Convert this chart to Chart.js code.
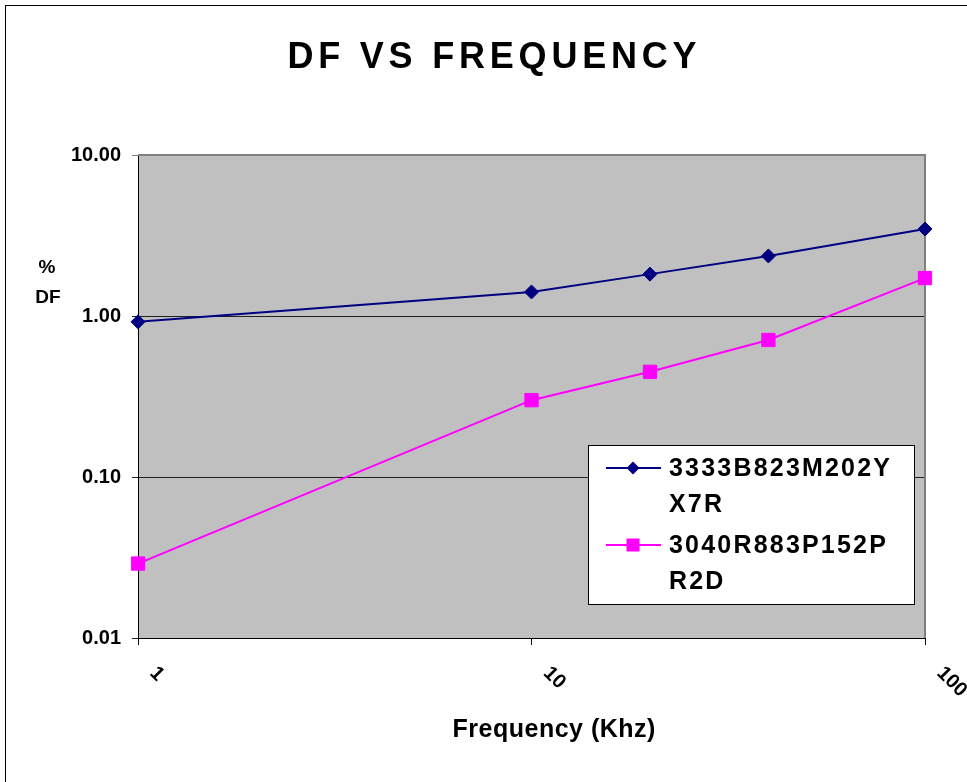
<!DOCTYPE html>
<html>
<head>
<meta charset="utf-8">
<script src="https://cdn.jsdelivr.net/npm/chart.js@4.4.0/dist/chart.umd.min.js"></script>
<style>
html, body { margin: 0; padding: 0; background: #fff; overflow: hidden; }
#frame { position: absolute; left: 5px; top: 5px; width: 1200px; height: 1200px; border: 1px solid #000; }
#wrap { position: absolute; left: 0; top: 0; width: 967px; height: 782px; }
</style>
</head>
<body>
<div id="frame"></div>
<div id="wrap"><canvas id="chart"></canvas></div>
<script>
// values
const freqs = [1, 10, 20, 40, 100];
const dfX7R = [0.92, 1.41, 1.82, 2.36, 3.47];
const dfR2D = [0.029, 0.30, 0.45, 0.71, 1.72];
const seriesNames = ['3333B823M202YX7R', '3040R883P152PR2D'];
const xTicks = [1, 10, 100];
const yTicks = [0.01, 0.1, 1, 10];

const FONT = '"Liberation Sans", Arial, sans-serif';

function spacedText(ctx, text, x, y, spacing, align) {
    ctx.letterSpacing = '0px';
    let w = ctx.measureText(text).width + spacing * (text.length - 1);
    ctx.letterSpacing = spacing + 'px';
    ctx.textAlign = 'left';
    let sx = align == 'center' ? x - w / 2 : x;
    ctx.fillText(text, sx, y);
    ctx.letterSpacing = '0px';
}

function wrapChars(ctx, text, maxW, spacing) {
    let lines = [], cur = '';
    for (const ch of text) {
        let t = cur + ch;
        if (cur && ctx.measureText(t).width + spacing * t.length > maxW) {
            lines.push(cur);
            cur = ch;
        } else cur = t;
    }
    if (cur) lines.push(cur);
    return lines;
}

const decor = {
    id: 'decor',
    beforeDraw(chart) {
        const {ctx, chartArea: a} = chart;
        ctx.save();
        ctx.fillStyle = '#C0C0C0';
        ctx.fillRect(a.left, a.top, a.right - a.left, a.bottom - a.top);
        ctx.restore();
    },
    beforeDatasetsDraw(chart) {
        const {ctx, chartArea: a} = chart;
        ctx.save();
        ctx.strokeStyle = '#808080';
        ctx.lineWidth = 2;
        ctx.beginPath();
        ctx.moveTo(a.left, a.top);
        ctx.lineTo(a.right, a.top);
        ctx.lineTo(a.right, a.bottom);
        ctx.stroke();
        ctx.restore();
    },
    afterDraw(chart) {
        const {ctx, chartArea: a} = chart;
        const xs = chart.scales.x;
        ctx.save();
        ctx.fillStyle = '#000';

        // title
        ctx.font = 'bold 36px ' + FONT;
        ctx.textBaseline = 'alphabetic';
        spacedText(ctx, 'DF VS FREQUENCY', 492, 68, 4.8, 'center');

        // y axis title
        ctx.font = 'bold 19px ' + FONT;
        spacedText(ctx, '%', 47, 273, 0, 'center');
        spacedText(ctx, 'DF', 48, 303, 0, 'center');

        // x axis title
        ctx.font = 'bold 25px ' + FONT;
        spacedText(ctx, 'Frequency (Khz)', 554, 737, 0.5, 'center');

        // x tick labels, turned clockwise
        ctx.font = 'bold 20px ' + FONT;
        xTicks.forEach(v => {
            let px = xs.getPixelForValue(v);
            ctx.save();
            ctx.translate(px + 15, a.bottom + 32);
            ctx.rotate(Math.PI / 4);
            ctx.textAlign = 'left';
            ctx.textBaseline = 'middle';
            ctx.fillText(String(v), 0, 0);
            ctx.restore();
        });

        // legend box
        const bx = 588, by = 445, bw = 326, bh = 159;
        ctx.fillStyle = '#fff';
        ctx.fillRect(bx, by, bw, bh);
        ctx.strokeStyle = '#000';
        ctx.lineWidth = 1;
        ctx.strokeRect(bx + 0.5, by + 0.5, bw, bh);

        ctx.font = 'bold 25px ' + FONT;
        ctx.textBaseline = 'alphabetic';
        let rowY = [468, 545];
        chart.data.datasets.forEach((ds, i) => {
            let y = rowY[i];
            ctx.strokeStyle = ds.borderColor;
            ctx.lineWidth = 2;
            ctx.beginPath();
            ctx.moveTo(606, y);
            ctx.lineTo(661, y);
            ctx.stroke();
            ctx.fillStyle = ds.borderColor;
            if (ds.pointStyle == 'rectRot') {
                ctx.beginPath();
                ctx.moveTo(633, y - 6.5);
                ctx.lineTo(639.5, y);
                ctx.lineTo(633, y + 6.5);
                ctx.lineTo(626.5, y);
                ctx.closePath();
                ctx.fill();
            } else {
                ctx.fillRect(626.5, y - 6.5, 13, 13);
            }
            ctx.fillStyle = '#000';
            let lines = wrapChars(ctx, ds.label, 232, 2.2);
            lines.forEach((ln, k) => {
                spacedText(ctx, ln, 669, y + 8 + k * 36, 2.2, 'left');
            });
        });
        ctx.restore();
    }
};

new Chart(document.getElementById('chart'), {
    type: 'line',
    data: {
        datasets: [{
            label: seriesNames[0],
            data: freqs.map((f, i) => ({x: f, y: dfX7R[i]})),
            borderColor: '#000080',
            backgroundColor: '#000080',
            borderWidth: 2,
            pointStyle: 'rectRot',
            pointRadius: 7,
            pointBorderWidth: 1,
            tension: 0,
            clip: false
        }, {
            label: seriesNames[1],
            data: freqs.map((f, i) => ({x: f, y: dfR2D[i]})),
            borderColor: '#FF00FF',
            backgroundColor: '#FF00FF',
            borderWidth: 2,
            pointStyle: 'rect',
            pointRadius: 9.4,
            pointBorderWidth: 1,
            tension: 0,
            clip: false
        }]
    },
    options: {
        responsive: true,
        maintainAspectRatio: false,
        animation: false,
        layout: {padding: {top: 155, right: 42, bottom: 0, left: 0}},
        plugins: {
            legend: {display: false},
            title: {display: false},
            tooltip: {enabled: false}
        },
        scales: {
            x: {
                type: 'logarithmic',
                min: 1,
                max: 100,
                afterBuildTicks: s => { s.ticks = xTicks.map(v => ({value: v})); },
                afterFit: s => { s.height = 144; },
                ticks: {display: false},
                grid: {drawOnChartArea: false, drawTicks: true, tickLength: 7, color: '#000'},
                border: {display: true, color: '#000', width: 1}
            },
            y: {
                type: 'logarithmic',
                min: 0.01,
                max: 10,
                afterBuildTicks: s => { s.ticks = yTicks.map(v => ({value: v})); },
                afterFit: s => { s.width = 138; },
                ticks: {
                    autoSkip: false,
                    padding: 11,
                    color: '#000',
                    font: {family: FONT, size: 20, weight: 'bold'},
                    callback: v => Number(v).toFixed(2)
                },
                grid: {
                    tickLength: 6,
                    lineWidth: 1,
                    color: c => (c.tick && c.tick.value == 10) ? '#808080' : '#202020'
                },
                border: {display: true, color: '#000', width: 1}
            }
        }
    },
    plugins: [decor]
});
</script>
</body>
</html>
